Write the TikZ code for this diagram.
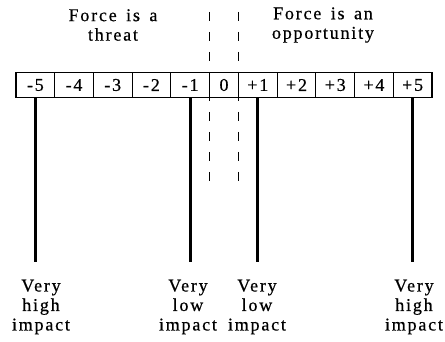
\documentclass[tikz,border=0pt]{standalone}
\usepackage{fontspec}
\setmainfont{Liberation Serif}[LetterSpace=10, WordSpace=1.5, FakeBold=0.6]
\usetikzlibrary{positioning}

\begin{document}
\begin{tikzpicture}[x=1pt, y=-1pt,
      font=\fontsize{18pt}{19.5pt}\selectfont,
      sel/.style={draw, line width=1.1pt, minimum width=38.7pt, minimum height=25pt, inner sep=0pt, font=\fontsize{18pt}{19.5pt}\selectfont},
      selnol/.style={sel, minimum width=29pt},
      judul/.style={align=center, inner sep=0pt},
      ket/.style={align=center, inner sep=0pt},
      tiang/.style={line width=2.8pt},
      putus/.style={line width=1.1pt, dash pattern=on 9pt off 11pt}
    ]
    \useasboundingbox (0,0) rectangle (445,342);

    % ─── Titles (top) ────────────────────────────────────────────
    \node[judul] (ancam)   at (113, 25) {Force is a\\ threat};
    \node[judul] (peluang) at (323, 25) {Force is an\\ opportunity};

    % ─── Scale cells ─────────────────────────────────────────────
    \node[sel]    (m5) at (35.35, 85)  {-5};
    \node[sel]    (m4) at (74.05, 85)  {-4};
    \node[sel]    (m3) at (112.75, 85) {-3};
    \node[sel]    (m2) at (151.45, 85) {-2};
    \node[sel]    (m1) at (190.15, 85) {-1};
    \node[selnol] (z0) at (224, 85)    {0};
    \node[sel]    (p1) at (257.85, 85) {+1};
    \node[sel]    (p2) at (296.55, 85) {+2};
    \node[sel]    (p3) at (335.25, 85) {+3};
    \node[sel]    (p4) at (373.95, 85) {+4};
    \node[sel]    (p5) at (412.65, 85) {+5};

    % ─── Impact labels (bottom) ──────────────────────────────────
    \node[ket] (km5) at (41, 307)  {Very\\ high\\ impact};
    \node[ket] (km1) at (188, 307) {Very\\ low\\ impact};
    \node[ket] (kp1) at (257, 307) {Very\\ low\\ impact};
    \node[ket] (kp5) at (414, 307) {Very\\ high\\ impact};

    % ─── Line ends ───────────────────────────────────────────────
    \coordinate (em5) at (35.35, 262);
    \coordinate (em1) at (190.15, 262);
    \coordinate (ep1) at (257.85, 262);
    \coordinate (ep5) at (412.65, 262);
    \coordinate (dka) at (209.5, 12);
    \coordinate (dkb) at (209.5, 184);
    \coordinate (dna) at (238.5, 12);
    \coordinate (dnb) at (238.5, 184);

    % ─── Lines ───────────────────────────────────────────────────
    % impact bars
    \draw[tiang] (m5.south) -- (em5);
    \draw[tiang] (m1.south) -- (em1);
    \draw[tiang] (p1.south) -- (ep1);
    \draw[tiang] (p5.south) -- (ep5);

    % dashed borders of zero
    \draw[putus] (dka) -- (dkb);
    \draw[putus] (dna) -- (dnb);

    \end{tikzpicture}
\end{document}
